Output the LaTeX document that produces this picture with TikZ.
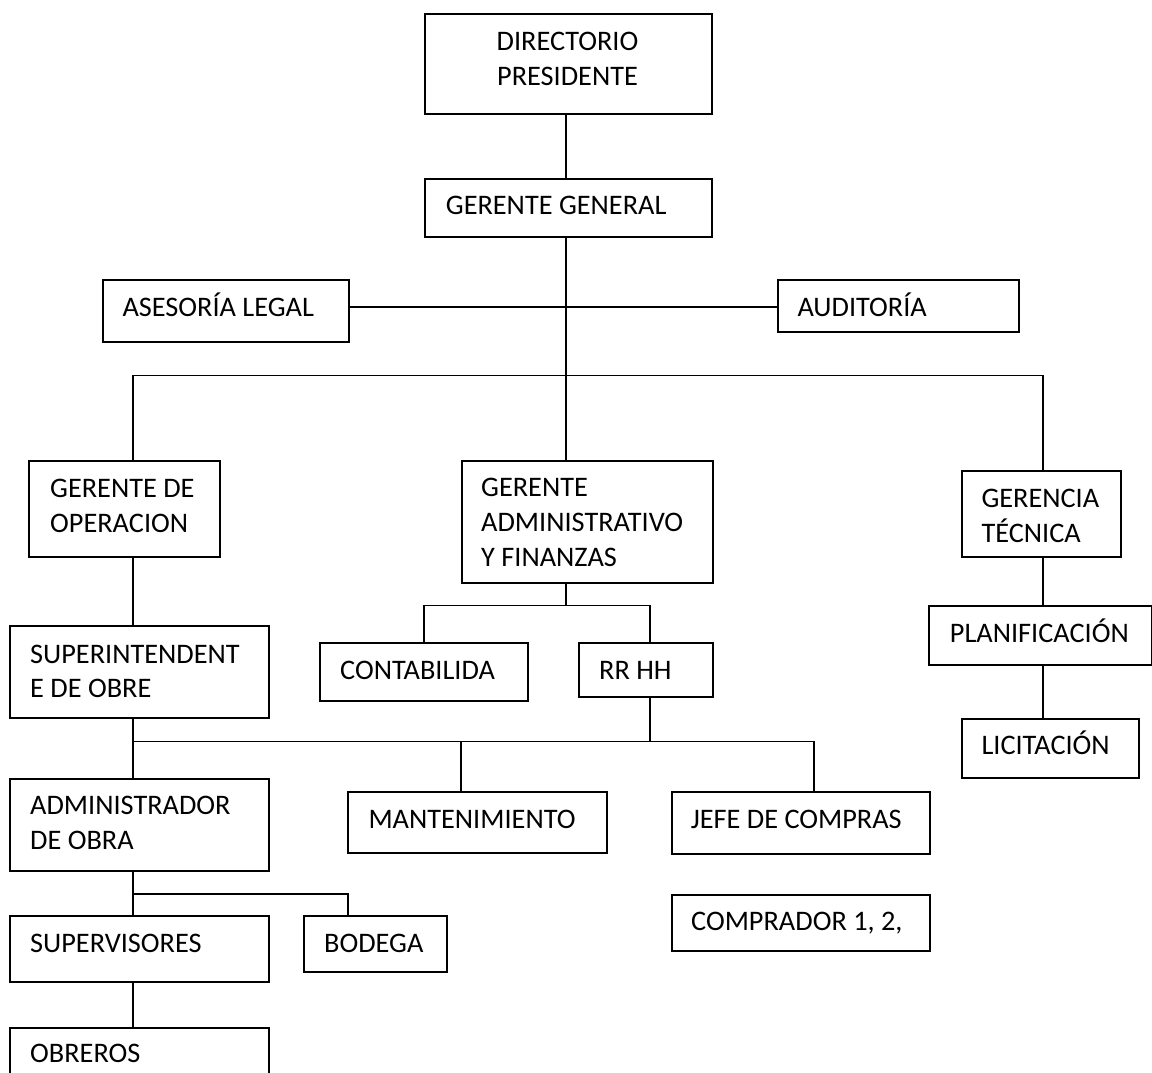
\documentclass[tikz,border=0pt]{standalone}
\usepackage{fontspec}
\setmainfont{Carlito}
\begin{document}
\begin{tikzpicture}[x=1pt,y=-1pt,
  box/.style={draw, line width=1.5pt, inner sep=0pt, anchor=north west},
  txt/.style={anchor=base west, inner sep=0pt, font=\fontsize{28.3}{35}\selectfont},
  ctxt/.style={anchor=base, inner sep=0pt, font=\fontsize{28.3}{35}\selectfont},
  con/.style={line width=1.1pt}]
\useasboundingbox (0,0) rectangle (1152,1072);
% boxes
\node[box, minimum width=287pt, minimum height=100pt] (dp) at (424,13) {};
\node[box, minimum width=287pt, minimum height=58pt] (gg) at (424,178) {};
\node[box, minimum width=246pt, minimum height=62pt] (al) at (102,279) {};
\node[box, minimum width=241pt, minimum height=52pt] (au) at (777,279) {};
\node[box, minimum width=191pt, minimum height=96pt] (go) at (28,460) {};
\node[box, minimum width=251pt, minimum height=122pt] (ga) at (461,460) {};
\node[box, minimum width=159pt, minimum height=86pt] (gt) at (961,470) {};
\node[box, minimum width=259pt, minimum height=92pt] (si) at (9,625) {};
\node[box, minimum width=208pt, minimum height=58pt] (co) at (319,642) {};
\node[box, minimum width=134pt, minimum height=54pt] (rh) at (578,642) {};
\node[box, minimum width=223pt, minimum height=59pt] (pl) at (928,605) {};
\node[box, minimum width=177pt, minimum height=59pt] (li) at (961,718) {};
\node[box, minimum width=259pt, minimum height=92pt] (ad) at (9,778) {};
\node[box, minimum width=259pt, minimum height=61pt] (ma) at (347,791) {};
\node[box, minimum width=258pt, minimum height=62pt] (je) at (671,791) {};
\node[box, minimum width=258pt, minimum height=56pt] (cp) at (671,894) {};
\node[box, minimum width=259pt, minimum height=66pt] (su) at (9,915) {};
\node[box, minimum width=143pt, minimum height=56pt] (bo) at (303,915) {};
\node[box, minimum width=259pt, minimum height=60pt] (ob) at (9,1027) {};
% texts
\node[ctxt] (tdp1) at (567.5,50) {DIRECTORIO};
\node[ctxt] (tdp2) at (567.5,85) {PRESIDENTE};
\node[txt] (tgg) at (445.7,214.3) {GERENTE GENERAL};
\node[txt] (tal) at (122.3,316.7) {ASESORÍA LEGAL};
\node[txt] (tau) at (797.3,316.7) {AUDITORÍA};
\node[txt] (tgo1) at (50,497) {GERENTE DE};
\node[txt] (tgo2) at (50,532) {OPERACION};
\node[txt] (tga1) at (481,496.3) {GERENTE};
\node[txt] (tga2) at (481,531.3) {ADMINISTRATIVO};
\node[txt] (tga3) at (481,566.3) {Y FINANZAS};
\node[txt] (tgt1) at (981.3,507) {GERENCIA};
\node[txt] (tgt2) at (981.3,542) {TÉCNICA};
\node[txt] (tsi1) at (30,663) {SUPERINTENDENT};
\node[txt] (tsi2) at (30,697.7) {E DE OBRE};
\node[txt] (tco) at (340,679.7) {CONTABILIDA};
\node[txt] (trh) at (599,679.7) {RR HH};
\node[txt] (tpl) at (949.7,642) {PLANIFICACIÓN};
\node[txt] (tli) at (981.3,754.7) {LICITACIÓN};
\node[txt] (tad1) at (30,814) {ADMINISTRADOR};
\node[txt] (tad2) at (30,849) {DE OBRA};
\node[txt] (tma) at (368.3,828.3) {MANTENIMIENTO};
\node[txt] (tje) at (690.7,828.3) {JEFE DE COMPRAS};
\node[txt] (tcp) at (691,930.7) {COMPRADOR 1, 2,};
\node[txt] (tsu) at (30,952.3) {SUPERVISORES};
\node[txt] (tbo) at (324,952.3) {BODEGA};
\node[txt] (tob) at (30,1062.3) {OBREROS};
% connector coordinates
\coordinate (c1) at (566,307);
\coordinate (bl) at (133,375.5);
\coordinate (br) at (1043,375.5);
\coordinate (a1) at (566,605.5);
\coordinate (a2) at (424,605.5);
\coordinate (a3) at (650,605.5);
\coordinate (r1) at (650,741.3);
\coordinate (m1) at (133,741.3);
\coordinate (m2) at (461,741.3);
\coordinate (m3) at (814,741.3);
\coordinate (t1) at (1043,0);
\coordinate (d1) at (133,894);
\coordinate (d2) at (348,894);
% connectors
\draw[con] (dp.south -| c1) -- (gg.north -| c1);
\draw[con] (gg.south -| c1) -- (ga.north -| c1);
\draw[con] (al.east |- c1) -- (au.west |- c1);
\draw[con] (bl |- go.north) -- (bl) -- (br) -- (br |- gt.north);
\draw[con] (bl |- go.south) -- (bl |- si.north);
\draw[con] (ga.south -| a1) -- (a1);
\draw[con] (a2 |- co.north) -- (a2) -- (a3) -- (a3 |- rh.north);
\draw[con] (rh.south -| r1) -- (r1);
\draw[con] (m1) -- (m3) -- (m3 |- je.north);
\draw[con] (m1 |- si.south) -- (m1 |- ad.north);
\draw[con] (m2) -- (m2 |- ma.north);
\draw[con] (gt.south -| t1) -- (pl.north -| t1);
\draw[con] (pl.south -| t1) -- (li.north -| t1);
\draw[con] (ad.south -| d1) -- (su.north -| d1);
\draw[con] (d1) -- (d2) -- (d2 |- bo.north);
\draw[con] (su.south -| d1) -- (ob.north -| d1);
\end{tikzpicture}
\end{document}
